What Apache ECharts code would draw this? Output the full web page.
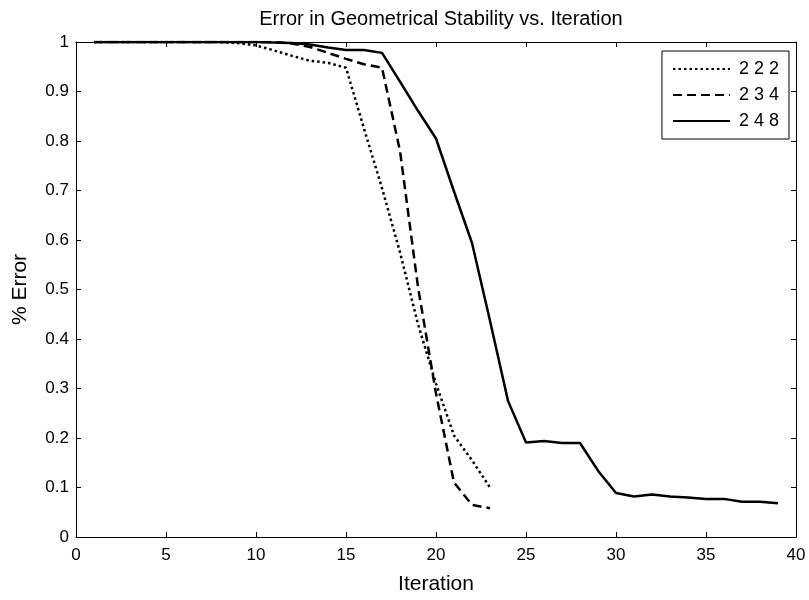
<!DOCTYPE html>
<html>
<head>
<meta charset="utf-8">
<script src="https://cdn.jsdelivr.net/npm/echarts@6/dist/echarts.min.js"></script>
<style>
html,body{margin:0;padding:0;background:#fff;}
#c{width:809px;height:600px;}
</style>
</head>
<body>
<div id="c"></div>
<script>
var iterations222 = [1,2,3,4,5,6,7,8,9,10,11,12,13,14,15,16,17,18,19,20,21,22,23];
var values222 = [1,1,1,1,1,1,1,1,0.998,0.993,0.983,0.972,0.962,0.958,0.948,0.825,0.705,0.575,0.43,0.31,0.205,0.155,0.1];

var iterations234 = [1,2,3,4,5,6,7,8,9,10,11,12,13,14,15,16,17,18,19,20,21,22,23];
var values234 = [1,1,1,1,1,1,1,1,1,1,1,0.997,0.99,0.978,0.966,0.955,0.948,0.78,0.505,0.29,0.11,0.065,0.058];

var iterations248 = [1,2,3,4,5,6,7,8,9,10,11,12,13,14,15,16,17,18,19,20,21,22,23,24,25,26,27,28,29,30,31,32,33,34,35,36,37,38,39];
var values248 = [1,1,1,1,1,1,1,1,1,1,0.999,0.998,0.995,0.989,0.984,0.984,0.978,0.92,0.861,0.805,0.698,0.594,0.437,0.275,0.191,0.194,0.19,0.19,0.134,0.089,0.082,0.086,0.082,0.08,0.077,0.077,0.071,0.071,0.068];

var seriesNames = ['2 2 2','2 3 4','2 4 8'];
var xTicks = {min:0, max:40, interval:5};
var yTicks = {min:0, max:1, interval:0.1};

function pairs(xs, ys){ return xs.map(function(x,i){ return [x, ys[i]]; }); }

var FONT = 'Liberation Sans, Arial, Helvetica, sans-serif';
var chart = echarts.init(document.getElementById('c'), null, {renderer:'canvas'});

function axisBase(extra){
  var a = {
    type:'value',
    axisLine:{show:true, onZero:false, lineStyle:{color:'#000', width:1}},
    axisTick:{show:true, inside:true, length:5, lineStyle:{color:'#000', width:1}},
    splitLine:{show:false},
    axisLabel:{show:false}
  };
  for (var k in extra) a[k] = extra[k];
  return a;
}

chart.setOption({
  backgroundColor:'#fff',
  animation:false,
  title:{
    text:'Error in Geometrical Stability vs. Iteration',
    left:436, top:4, textAlign:'center',
    textStyle:{fontFamily:FONT, fontSize:20, fontWeight:'normal', color:'#000'}
  },
  legend:{
    data:seriesNames,
    orient:'vertical',
    right:20, top:51,
    itemWidth:57, itemHeight:14, itemGap:8,
    padding:[9,10,9,10],
    borderColor:'#000', borderWidth:1,
    backgroundColor:'#fff',
    itemStyle:{color:'rgba(0,0,0,0)', borderWidth:0, opacity:0},
    textStyle:{fontFamily:FONT, fontSize:18, lineHeight:18, color:'#000', padding:[0,0,0,4]}
  },
  grid:{left:76, right:13, top:42, bottom:58, containLabel:false},
  xAxis:[
    axisBase({min:xTicks.min, max:xTicks.max, interval:xTicks.interval, position:'bottom',
      name:'Iteration', nameLocation:'middle', nameGap:37,
      nameTextStyle:{fontFamily:FONT, fontSize:21, color:'#000'},
      axisLabel:{show:true, margin:10, fontFamily:FONT, fontSize:17, color:'#000'}}),
    axisBase({min:xTicks.min, max:xTicks.max, interval:xTicks.interval, position:'top'})
  ],
  yAxis:[
    axisBase({min:yTicks.min, max:yTicks.max, interval:yTicks.interval, position:'left',
      name:'% Error', nameLocation:'middle', nameGap:45,
      nameTextStyle:{fontFamily:FONT, fontSize:21, color:'#000'},
      axisLabel:{show:true, margin:7, fontFamily:FONT, fontSize:17, color:'#000',
        formatter:function(v){ return String(Math.round(v*10)/10); }}}),
    axisBase({min:yTicks.min, max:yTicks.max, interval:yTicks.interval, position:'right'})
  ],
  series:[
    {name:seriesNames[0], type:'line', data:pairs(iterations222, values222), symbol:'none',
      lineStyle:{color:'#000', width:2.5, type:[2.5,3]}, itemStyle:{color:'#000'}},
    {name:seriesNames[1], type:'line', data:pairs(iterations234, values234), symbol:'none',
      lineStyle:{color:'#000', width:2.5, type:[9,5]}, itemStyle:{color:'#000'}},
    {name:seriesNames[2], type:'line', data:pairs(iterations248, values248), symbol:'none',
      lineStyle:{color:'#000', width:2.5, type:'solid'}, itemStyle:{color:'#000'}}
  ]
});
</script>
</body>
</html>
